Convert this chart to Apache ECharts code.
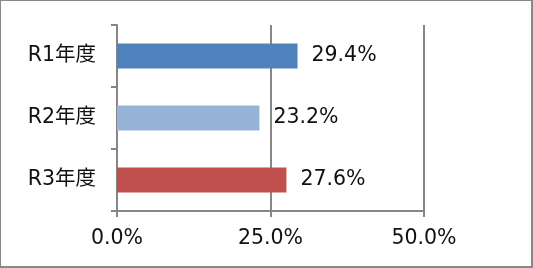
<!DOCTYPE html>
<html><head><meta charset="utf-8">
<script src="https://cdn.jsdelivr.net/npm/echarts@6/dist/echarts.min.js"></script>
<style>
html,body{margin:0;padding:0;background:#fff;}
#c{width:533px;height:268px;box-sizing:border-box;border-left:1px solid #888;border-top:1px solid #888;border-right:2px solid #888;border-bottom:2px solid #888;}
</style></head>
<body><div id="c"></div>
<script>
const categories = ['R1年度', 'R2年度', 'R3年度'];
const values = [29.4, 23.2, 27.6];
const barColors = ['#4F81BD', '#95B3D7', '#C0504D'];
const xTicks = [0, 25, 50];

const chart = echarts.init(document.getElementById('c'), null, {renderer: 'canvas'});
const font = '"DejaVu Sans", "Noto Sans CJK JP", sans-serif';
const fw = 'normal';
chart.setOption({
  animation: false,
  grid: {left: 116, right: 107, top: 24, bottom: 55, containLabel: false},
  xAxis: {
    type: 'value', min: xTicks[0], max: xTicks[xTicks.length - 1], interval: 25,
    axisLine: {show: true, lineStyle: {color: '#868686', width: 2}},
    axisTick: {show: true, length: 6, lineStyle: {color: '#868686', width: 2}},
    splitLine: {show: true, lineStyle: {color: '#868686', width: 2}},
    axisLabel: {fontFamily: font, fontSize: 20.5, fontWeight: fw, color: '#111', margin: 17,
      formatter: v => v.toFixed(1) + '%'}
  },
  yAxis: {
    type: 'category', data: categories, inverse: true,
    axisLine: {show: true, lineStyle: {color: '#868686', width: 2}},
    axisTick: {show: true, length: 6, lineStyle: {color: '#868686', width: 2}},
    axisLabel: {fontFamily: font, fontSize: 20.5, fontWeight: fw, color: '#111', margin: 21}
  },
  series: [{
    type: 'bar', barWidth: 25,
    data: values.map((v, i) => ({value: v, itemStyle: {color: barColors[i]}})),
    label: {show: true, position: 'right', distance: 14, fontFamily: font, fontSize: 20.5, fontWeight: fw, color: '#111',
      formatter: p => p.value.toFixed(1) + '%'}
  }]
});
</script></body></html>
